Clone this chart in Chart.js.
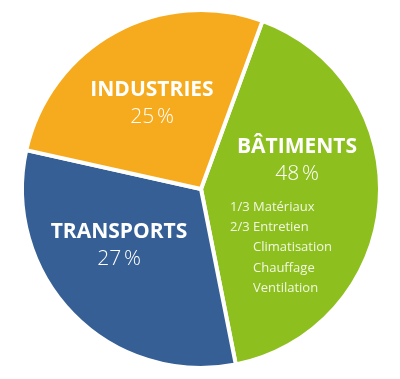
<!DOCTYPE html>
<html>
<head>
<meta charset="utf-8">
<script src="https://cdn.jsdelivr.net/npm/chart.js@4.4.1/dist/chart.umd.min.js"></script>
<style>
  html, body { margin: 0; padding: 0; background: #fff; }
  #wrap { width: 400px; height: 379px; }
</style>
</head>
<body>
<div id="wrap"><canvas id="pie" width="400" height="379"></canvas></div>
<script>
// Data (slice shares as drawn, printed percentages)
const categories = ['BÂTIMENTS', 'TRANSPORTS', 'INDUSTRIES'];
const sliceShares = [41.3, 31.6, 27.1];
const printedPercents = ['48\u202F%', '27\u202F%', '25\u202F%'];
const batimentsDetails = ['1/3 Matériaux', '2/3 Entretien', 'Climatisation', 'Chauffage', 'Ventilation'];
const colors = ['#8dc01f', '#366095', '#f6ab1e'];

// label layout (offsets from pie centre, px)
const labelPos = [
  { x: 96, y: -42 },
  { x: -82, y: 43 },
  { x: -49, y: -99 }
];

const FONT = '"Open Sans", "Noto Sans", sans-serif';

const labelPlugin = {
  id: 'sliceLabels',
  afterDraw(chart) {
    const ctx = chart.ctx;
    const arc = chart.getDatasetMeta(0).data[0];
    const cx = arc.x, cy = arc.y;
    ctx.save();
    ctx.textAlign = 'center';
    ctx.textBaseline = 'middle';
    ctx.fillStyle = '#ffffff';
    categories.forEach((name, i) => {
      const px = cx + labelPos[i].x;
      const py = cy + labelPos[i].y;
      ctx.font = 'bold 21px ' + FONT;
      ctx.fillText(name, px, py);
      ctx.font = '300 21px ' + FONT;
      ctx.fillText(printedPercents[i], px, py + 27);
    });
    // Bâtiments breakdown
    ctx.textAlign = 'left';
    ctx.font = '13px ' + FONT;
    ctx.fillStyle = '#f1f7e2';
    batimentsDetails.forEach((line, i) => {
      const indent = i < 2 ? 0 : 23;
      ctx.fillText(line, cx + 29 + indent, cy + 18 + i * 20.3);
    });
    ctx.restore();
  }
};

new Chart(document.getElementById('pie'), {
  type: 'pie',
  data: {
    labels: categories,
    datasets: [{
      data: sliceShares,
      backgroundColor: colors,
      borderColor: '#ffffff',
      borderWidth: 4
    }]
  },
  options: {
    responsive: false,
    animation: false,
    rotation: 20.1,
    layout: { padding: { left: 20, right: 18, top: 8, bottom: 9 } },
    plugins: {
      legend: { display: false },
      tooltip: { enabled: false }
    },
    events: []
  },
  plugins: [labelPlugin]
});
</script>
</body>
</html>
